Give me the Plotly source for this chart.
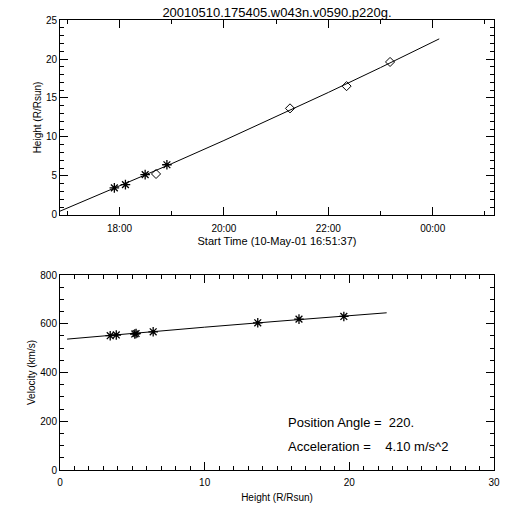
import plotly.graph_objects as go

# ---- data ----
c2_times = ["2001-05-10 17:54:05", "2001-05-10 18:06:50", "2001-05-10 18:29:30", "2001-05-10 18:54:30"]
c2_heights = [3.47, 3.89, 5.17, 6.44]
c3_times = ["2001-05-10 18:42:00", "2001-05-10 21:16:00", "2001-05-10 22:21:00", "2001-05-10 23:11:00"]
c3_heights = [5.26, 13.67, 16.52, 19.62]

fit_times = ["2001-05-10 16:51:37", "2001-05-10 18:00", "2001-05-10 19:00", "2001-05-10 20:00",
             "2001-05-10 21:00", "2001-05-10 22:00", "2001-05-10 23:00", "2001-05-11 00:07:30"]
fit_heights = [0.49, 3.69, 6.58, 9.55, 12.59, 15.71, 18.90, 22.58]

vel_heights = [3.47, 3.89, 5.17, 5.26, 6.44, 13.67, 16.52, 19.62]
velocities = [551, 554, 558, 560, 567, 604, 619, 630]
vfit_heights = [0.49, 5, 10, 15, 20, 22.58]
vfit_vel = [537, 561, 586, 610, 633, 645]

title_text = "20010510.175405.w043n.v0590.p220g."
pa_text = "Position Angle =\u00a0\u00a0220."
acc_text = "Acceleration =\u00a0\u00a0\u00a0\u00a04.10 m/s^2"

FONT = "Liberation Sans"
fig = go.Figure()

fig.add_trace(go.Scatter(x=fit_times, y=fit_heights, mode="lines",
                         line=dict(color="black", width=1), xaxis="x", yaxis="y", showlegend=False))
fig.add_trace(go.Scatter(x=c2_times, y=c2_heights, mode="markers",
                         marker=dict(symbol="asterisk-open", size=8, color="black",
                                     line=dict(color="black", width=1.3)),
                         xaxis="x", yaxis="y", showlegend=False))
fig.add_trace(go.Scatter(x=c3_times, y=c3_heights, mode="markers",
                         marker=dict(symbol="diamond-open", size=7, color="black",
                                     line=dict(color="black", width=1)),
                         xaxis="x", yaxis="y", showlegend=False))

fig.add_trace(go.Scatter(x=vfit_heights, y=vfit_vel, mode="lines",
                         line=dict(color="black", width=1), xaxis="x2", yaxis="y2", showlegend=False))
fig.add_trace(go.Scatter(x=vel_heights, y=velocities, mode="markers",
                         marker=dict(symbol="asterisk-open", size=8, color="black",
                                     line=dict(color="black", width=1.3)),
                         xaxis="x2", yaxis="y2", showlegend=False))

axis_common = dict(showline=True, linecolor="black", linewidth=1, mirror="allticks",
                   ticks="inside", ticklen=8, tickcolor="black", showgrid=False, zeroline=False,
                   tickfont=dict(family=FONT, size=10, color="black"))

fig.update_layout(
    width=512, height=512,
    margin=dict(l=60, r=18, t=20, b=42),
    paper_bgcolor="white", plot_bgcolor="white",
    font=dict(family=FONT, color="black"),
    title=dict(text=title_text, x=0.541, xanchor="center", y=0.9766, yanchor="middle",
               font=dict(family=FONT, size=13, color="black")),
    xaxis=dict(axis_common, type="date", anchor="y", domain=[0, 1],
               range=["2001-05-10 16:51:37", "2001-05-11 01:10:27"],
               tick0="2001-05-10 00:00", dtick=7200000, tickformat="%H:%M",
               ticklabelstandoff=4,
               minor=dict(ticks="inside", ticklen=4, dtick=3600000, tickcolor="black",
                          tick0="2001-05-10 00:00", showgrid=False),
               title=dict(text="Start Time (10-May-01 16:51:37)", standoff=4,
                          font=dict(family=FONT, size=11, color="black"))),
    yaxis=dict(axis_common, anchor="x", domain=[0.5667, 1], range=[0, 25], dtick=5,
               minor=dict(ticks="inside", ticklen=4, dtick=1, tickcolor="black", showgrid=False),
               title=dict(text="Height (R/Rsun)", standoff=2,
                          font=dict(family=FONT, size=10, color="black"))),
    xaxis2=dict(axis_common, anchor="y2", domain=[0, 1], range=[0, 30], dtick=10,
                ticklabelstandoff=3,
                minor=dict(ticks="inside", ticklen=4, dtick=1, tickcolor="black", showgrid=False),
                title=dict(text="Height (R/Rsun)", standoff=6,
                           font=dict(family=FONT, size=10, color="black"))),
    yaxis2=dict(axis_common, anchor="x2", domain=[0, 0.4333], range=[0, 800], dtick=200,
                minor=dict(ticks="inside", ticklen=4, dtick=50, tickcolor="black", showgrid=False),
                title=dict(text="Velocity (km/s)", standoff=2,
                           font=dict(family=FONT, size=10, color="black"))),
    annotations=[
        dict(text=pa_text, x=15.6, y=193, xref="x2", yref="y2", xanchor="left", yanchor="middle",
             showarrow=False, font=dict(family=FONT, size=13, color="black")),
        dict(text=acc_text, x=15.6, y=98, xref="x2", yref="y2", xanchor="left", yanchor="middle",
             showarrow=False, font=dict(family=FONT, size=13, color="black")),
    ],
)

# Remove the default page margin so the 512x512 figure fills the window exactly.
fig.write_html("out.html", config={"displayModeBar": False},
               post_script="document.body.style.margin='0px';")
